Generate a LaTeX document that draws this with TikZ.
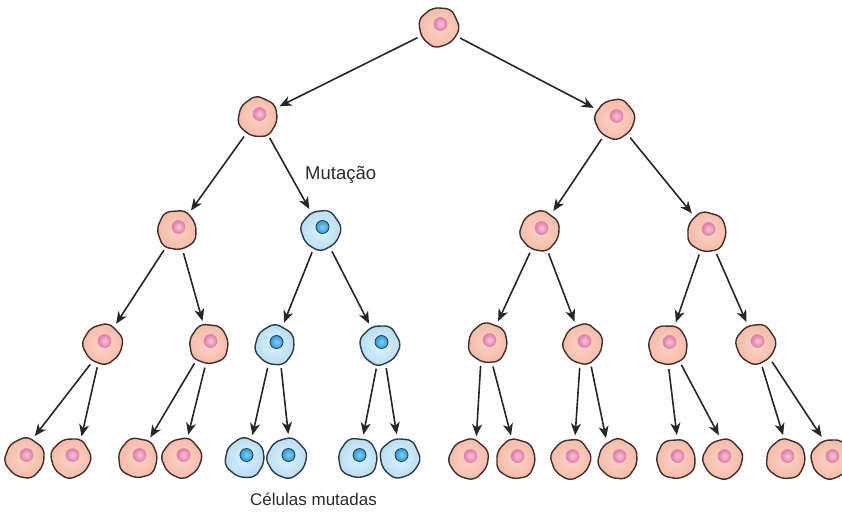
\documentclass[tikz,border=0pt]{standalone}
\usepackage{fontspec}
\setmainfont{Liberation Sans}
\usetikzlibrary{arrows.meta}

% cell colours
\definecolor{pinkin}{HTML}{FAD3C6}
\definecolor{pinkout}{HTML}{F5BBA8}
\definecolor{pinkline}{HTML}{3E302D}
\definecolor{pinknucin}{HTML}{F8CADC}
\definecolor{pinknucout}{HTML}{E47BA6}
\definecolor{pinknucline}{HTML}{E08AAE}
\definecolor{bluein}{HTML}{DDF1FB}
\definecolor{blueout}{HTML}{B8DDF2}
\definecolor{blueline}{HTML}{2E3B45}
\definecolor{bluenucin}{HTML}{86D0F2}
\definecolor{bluenucout}{HTML}{2F98D2}
\definecolor{bluenucline}{HTML}{1E3F5A}
\definecolor{arrowgray}{HTML}{262626}
\definecolor{textgray}{HTML}{2A2A2A}

\tikzset{
  spot/.style={circle, minimum size=48pt, inner sep=0pt, outer sep=0pt},
  link/.style={draw=arrowgray, line width=1.6pt,
    -{Stealth[length=12pt,width=10pt,inset=3.5pt]}},
  cellwall/.style={line width=1.4pt, rounded corners=6pt},
  txt/.style={inner sep=0pt, anchor=base west, text=textgray},
  % #1 = colour set (pink / blue), #2 = turn of the outline
  pics/cell/.style 2 args={code={
    \shadedraw[cellwall, rotate=#2, draw=#1line, inner color=#1in, outer color=#1out]
      (4:21.5) -- (52:20) -- (102:22) -- (150:20.5) -- (200:22) -- (252:20.5) -- (305:22) -- cycle;
    \shadedraw[draw=#1nucline, line width=0.8pt, inner color=#1nucin, outer color=#1nucout]
      (1.5,-3) circle (6.5);
  }},
}

\begin{document}
\begin{tikzpicture}[x=1pt, y=-1pt]
\useasboundingbox (0,0) rectangle (842,511);
\clip (0,0) rectangle (842,511);

% cells of every generation
\foreach \n/\x/\y/\cl/\ro in {
  a/439/27/pink/0,
  b1/258/117/pink/40, b2/615/119/pink/15,
  c1/177/230/pink/70, c2/321/230/blue/10, c3/540/231/pink/30, c4/707/232/pink/50,
  d1/103/344/pink/20, d2/209/344/pink/60, d3/275/345/blue/35, d4/380/345/blue/5,
  d5/488/343/pink/45, d6/583/344/pink/25, d7/668/345/pink/65, d8/756/344/pink/10,
  e1/25/458/pink/30, e2/71/458/pink/5, e3/138/458/pink/55, e4/182/458/pink/15,
  e5/245/458/blue/40, e6/287/458/blue/20, e7/358/458/blue/60, e8/400/458/blue/0,
  e9/469/459/pink/25, e10/516/459/pink/50, e11/571/459/pink/10, e12/618/459/pink/35,
  e13/676/459/pink/70, e14/723/459/pink/20, e15/786/459/pink/45, e16/831/459/pink/5}
{
  \node[spot] (\n) at (\x,\y) {};
  \pic at (\n) {cell={\cl}{\ro}};
}

% divisions
\draw[link] (a) -- (b1);
\draw[link] (a) -- (b2);
\draw[link] (b1) -- (c1);
\draw[link] (b1) -- (c2);
\draw[link] (b2) -- (c3);
\draw[link] (b2) -- (c4);
\draw[link] (c1) -- (d1);
\draw[link] (c1) -- (d2);
\draw[link] (c2) -- (d3);
\draw[link] (c2) -- (d4);
\draw[link] (c3) -- (d5);
\draw[link] (c3) -- (d6);
\draw[link] (c4) -- (d7);
\draw[link] (c4) -- (d8);
\draw[link] (d1.238) -- (e1.66);
\draw[link] (d1.256) -- (e2.64);
\draw[link] (d2.233) -- (e3.59);
\draw[link] (d2.260) -- (e4.75);
\draw[link] (d3.252) -- (e5.72);
\draw[link] (d3.285) -- (e6.87);
\draw[link] (d4.261) -- (e7.77);
\draw[link] (d4.285) -- (e8.98);
\draw[link] (d5.252) -- (e9.72);
\draw[link] (d5.282) -- (e10.102);
\draw[link] (d6.262) -- (e11.80);
\draw[link] (d6.290) -- (e12.120);
\draw[link] (d7.272) -- (e13.88);
\draw[link] (d7.304) -- (e14.100);
\draw[link] (d8.285) -- (e15.97);
\draw[link] (d8.312) -- (e16.113);

% labels
\node[txt, font=\fontsize{18.5}{22}\selectfont] (mut) at (305,179) {Mutação};
\node[txt, font=\fontsize{17}{20}\selectfont] (mutadas) at (250,505) {Células mutadas};
\end{tikzpicture}
\end{document}
